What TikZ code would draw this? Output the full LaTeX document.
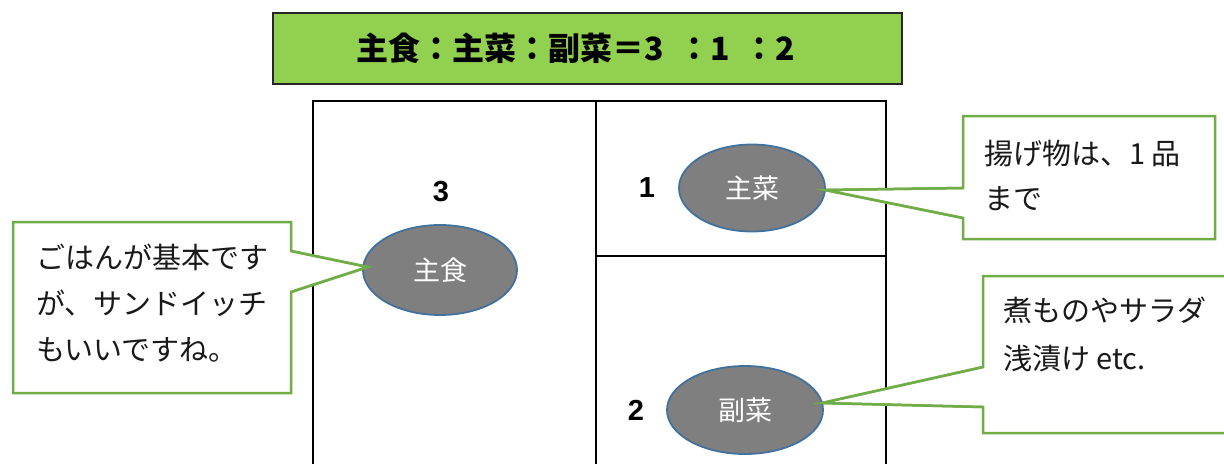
\documentclass[tikz,border=0pt]{standalone}
\usepackage{fontspec}
\setmainfont{Liberation Sans}
\newfontfamily\jp{Noto Sans CJK JP}
\newfontfamily\jpb{Noto Sans CJK JP Black}
\definecolor{titlegreen}{HTML}{92D050}
\definecolor{callgreen}{HTML}{70AD47}
\definecolor{ellfill}{HTML}{7F7F7F}
\definecolor{ellline}{HTML}{41719C}
\tikzset{
  titlebox/.style={draw=black!85,line width=1.5pt,fill=titlegreen},
  gridline/.style={draw=black,line width=2pt},
  dish/.style={ellipse,draw=ellline,line width=1.8pt,fill=ellfill,text=white,font=\jp\fontsize{27}{27}\selectfont,inner sep=0pt},
  callout/.style={draw=callgreen,line width=2.5pt,fill=white,line join=miter},
  calltext/.style={anchor=base west,inner sep=0pt,font=\jp\fontsize{29}{29}\selectfont,text=black!90},
  ratio/.style={font=\bfseries\fontsize{29}{29}\selectfont,inner sep=0pt}
}
\usetikzlibrary{shapes.geometric}
\begin{document}
\begin{tikzpicture}[x=1pt,y=-1pt]
\useasboundingbox (0,0) rectangle (1224,464);
\fill[white] (0,0) rectangle (1224,464);
% title
\draw[titlebox] (273,13) rectangle (902,84);
\node[anchor=west,inner sep=0pt,font=\jpb\fontsize{32}{32}\selectfont] (title) at (356,48) {主食：主菜：副菜＝3\hspace{0.45em}：1\hspace{0.45em}：2};
% grid
\draw[gridline] (313,464) -- (313,101) -- (886,101) -- (886,464);
\draw[gridline] (596,101) -- (596,464);
\draw[gridline] (596,256) -- (886,256);
% numbers
\node[ratio] (n3) at (441,192) {3};
\node[ratio] (n1) at (647,188) {1};
\node[ratio] (n2) at (636,410) {2};
% callouts shapes
\coordinate (tipA) at (368,267);
\coordinate (tipB) at (825,190);
\coordinate (tipC) at (822,403);
\draw[callout] (13,222) -- (291,222) -- (291,251) -- (tipA) -- (291,292) -- (291,393) -- (13,393) -- cycle;
\draw[callout] (963,116) -- (1215,116) -- (1215,239) -- (963,239) -- (963,218) -- (tipB) -- (963,188) -- cycle;
\draw[callout] (983,276) -- (1230,276) -- (1230,433) -- (983,433) -- (983,407) -- (tipC) -- (983,367) -- cycle;
% ellipses
\node[dish,minimum width=154pt,minimum height=90pt] (shushoku) at (440,270) {主食};
\node[dish,minimum width=146pt,minimum height=87pt] (shusai) at (752,188) {主菜};
\node[dish,minimum width=156pt,minimum height=88pt] (fukusai) at (745,410) {副菜};
% callout pointer tips drawn over ellipse edge
\draw[callgreen,line width=2.5pt] (291,251) -- (tipA) -- (291,292);
\draw[callgreen,line width=2.5pt] (963,218) -- (tipB) -- (963,188);
\draw[callgreen,line width=2.5pt] (983,407) -- (tipC) -- (983,367);
% callout texts
\node[calltext] (a1) at (36,268) {ごはんが基本です};
\node[calltext] (a2) at (36,314) {が、サンドイッチ};
\node[calltext] (a3) at (36,360) {もいいですね。};
\node[calltext] (b1) at (984,164) {揚げ物は、1 品};
\node[calltext] (b2) at (984,209) {まで};
\node[calltext] (c1) at (1003,321) {煮ものやサラダ};
\node[calltext] (c2) at (1003,369) {浅漬け etc.};
\end{tikzpicture}
\end{document}
